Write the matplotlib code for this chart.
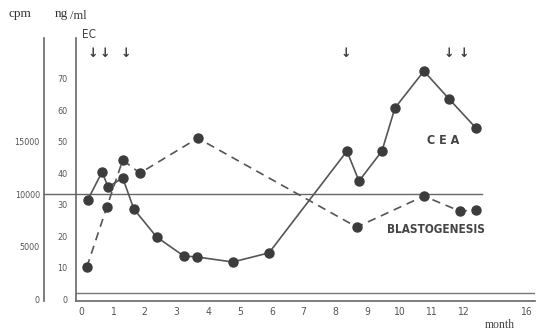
import numpy as np
import matplotlib.pyplot as plt

# CEA (ng/ml), solid line
cea_months = [0.21, 0.66, 0.85, 1.31, 1.66, 2.38, 3.23, 3.64, 4.77, 5.91,
              8.36, 8.74, 9.46, 9.87, 10.78, 11.57, 12.42]
cea_values = [31.6, 40.5, 35.7, 38.6, 28.7, 19.8, 13.8, 13.5, 11.9, 14.8,
              47.1, 37.6, 47.1, 60.8, 72.5, 63.7, 54.4]

# blastogenesis (cpm), dashed line
blast_months = [0.18, 0.81, 1.31, 1.85, 3.67, 8.67, 10.78, 11.91, 12.42]
blast_values = [3070, 8770, 13230, 11990, 15310, 6870, 9810, 8390, 8480]

# EC treatment arrows
ec_months = [0.37, 0.75, 1.41, 8.33, 11.57, 12.04]

ng_ticks = [0, 10, 20, 30, 40, 50, 60, 70]
cpm_ticks = [0, 5000, 10000, 15000]
month_ticks = list(range(13)) + [14.0]
month_labels = [str(m) for m in range(13)] + ['16']

ink = '#3c3c3c'
txt = '#555555'
cpm_per_ng = 298.9

fig = plt.figure(figsize=(5.37, 3.32), dpi=100)
ax = fig.add_axes([0.1415, 0.0934, 0.8545, 0.792])
ax.set_xlim(-0.16, 14.27)
ax.set_ylim(-0.48, 83.0)

# second (cpm) axis, drawn further to the left
ax2 = ax.twinx()
ax2.set_ylim(-0.48 * cpm_per_ng, 83.0 * cpm_per_ng)
ax2.yaxis.set_ticks_position('left')
ax2.spines['left'].set_position(('axes', -0.0697))
for s in ['right', 'top', 'bottom']:
    ax2.spines[s].set_visible(False)
for s in ['right', 'top']:
    ax.spines[s].set_visible(False)
for s in ['left', 'bottom']:
    ax.spines[s].set_color('#666666')
    ax.spines[s].set_linewidth(1.2)
ax2.spines['left'].set_color('#666666')
ax2.spines['left'].set_linewidth(1.2)

ax.set_yticks(ng_ticks)
ax.set_yticklabels([str(v) for v in ng_ticks])
ax2.set_yticks(cpm_ticks)
ax2.set_yticklabels([str(v) for v in cpm_ticks])
ax.set_xticks(month_ticks)
ax.set_xticklabels(month_labels)
ax.tick_params(axis='y', length=0, pad=6, labelsize=6.5, labelcolor=txt)
ax2.tick_params(axis='y', length=0, pad=3, labelsize=6.5, labelcolor=txt)
ax.tick_params(axis='x', length=0, pad=4, labelsize=7.5, labelcolor=txt)
for lab in ax.get_xticklabels() + ax.get_yticklabels() + ax2.get_yticklabels():
    lab.set_fontstretch('condensed')

# reference lines
ax.axhline(2.0, color='#777777', lw=1.0)
ax2.axhline(10000, xmin=-0.0697, xmax=0.8845, color='#666666', lw=1.0, clip_on=False)

ax2.plot(blast_months, blast_values, color='#555555', lw=1.2, ls=(0, (5, 3.5)),
         marker='o', ms=6.5, mfc=ink, mec=ink, zorder=3)
ax.plot(cea_months, cea_values, color='#555555', lw=1.2,
        marker='o', ms=6.5, mfc=ink, mec=ink, zorder=3)
ax.set_zorder(ax2.get_zorder() + 1)
ax.patch.set_visible(False)

for m in ec_months:
    ax.text(m, 78.0, '↓', ha='center', va='center', fontsize=9,
            fontweight='bold', color=ink, clip_on=False)

ax.text(11.38, 50.6, 'C E A', ha='center', va='center', fontsize=9,
        fontweight='bold', color='#444444', fontstretch='condensed')
ax.text(11.16, 22.1, 'BLASTOGENESIS', ha='center', va='center', fontsize=8.5,
        fontweight='bold', color='#444444', fontstretch='condensed')

fig.text(89 / 537, 1 - 35 / 332, 'EC', ha='center', va='center', fontsize=8.5,
         color='#444444', fontstretch='condensed')
fig.text(20 / 537, 1 - 14 / 332, 'cpm', ha='center', va='center', fontsize=9.5,
         family='Liberation Serif', color='#333333')
fig.text(55 / 537, 1 - 14 / 332, 'ng', ha='left', va='center', fontsize=9.5,
         family='Liberation Serif', color='#333333')
fig.text(70 / 537, 1 - 16 / 332, '/ml', ha='left', va='center', fontsize=9,
         family='Liberation Serif', color='#333333')
fig.text(500 / 537, 1 - 325 / 332, 'month', ha='center', va='center', fontsize=8.5,
         family='Liberation Serif', color='#444444')

fig.savefig('out.png', dpi=100)
